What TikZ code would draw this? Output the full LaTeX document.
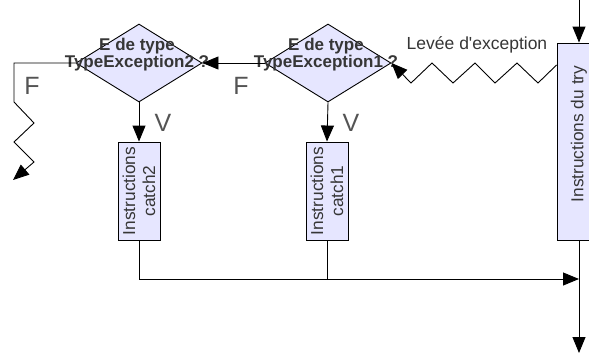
\documentclass[tikz,border=0pt]{standalone}
\usepackage{fontspec}
\setmainfont{Liberation Sans}[Ligatures=TeXOff]
\usetikzlibrary{shapes.geometric,arrows.meta}

\definecolor{boxfill}{HTML}{E6E6FF}
\definecolor{txt}{HTML}{363636}

\begin{document}
\begin{tikzpicture}[x=1pt,y=-1pt,
  line width=0.9pt,
  arr/.style={-{Triangle[length=16pt,width=13pt]}},
  decision/.style={diamond, draw, fill=boxfill, minimum width=126pt,
    minimum height=78pt, inner sep=0pt},
  qtext/.style={text=txt, font=\fontsize{17}{17}\selectfont\bfseries,
    align=center, inner sep=0pt},
  block/.style={draw, fill=boxfill, inner sep=0pt},
  btext/.style={text=txt, font=\fontsize{17.3}{20}\selectfont, align=center,
    rotate=90, inner sep=0pt},
  branch/.style={text=txt!85, font=\fontsize{25}{25}\selectfont, inner sep=0pt}]

  \useasboundingbox (0,0) rectangle (589,354);

  % decisions
  \node[decision] (q2) at (139,63) {};
  \node[decision] (q1) at (328,63) {};
  \node[qtext] (q2t) at (137,55) {E de type\\TypeException2 ?};
  \node[qtext] (q1t) at (326,55) {E de type\\TypeException1 ?};

  % blocks
  \node[block, minimum width=42pt, minimum height=98pt] (c2) at (139,191) {};
  \node[btext] (c2t) at (c2) {Instructions\\catch2};
  \node[block, minimum width=42pt, minimum height=98pt] (c1) at (327,191) {};
  \node[btext] (c1t) at (c1) {Instructions\\catch1};
  \node[block, minimum width=44pt, minimum height=197pt] (try) at (579,141.5) {};
  \node[btext] (tryt) at (579,134) {Instructions du try};

  % free ends
  \coordinate (in) at (579,0);
  \coordinate (out) at (579,353);
  \coordinate (merge) at (579,279);
  \coordinate (fend) at (13,180);

  % entry and exit of the try block
  \draw[arr] (in) -- (try.north);
  \draw[arr] (try.south) -- (out);

  % exception raised
  \draw[arr] (try.west |- 0,65) -- (538,83) -- (517,63) -- (495,83) -- (475,63)
    -- (453,83) -- (432,63) -- (411,83) -- (q1.east);
  \node[text=txt, font=\fontsize{17.5}{17.5}\selectfont, inner sep=0pt] (lev) at (477,45) {Levée d'exception};

  % false branches
  \draw[arr] (q1.west) -- (q2.east);
  \draw[arr] (q2.west) -- (14,63) -- (14,102) -- (34,123) -- (14,142)
    -- (34,162) -- (fend);
  \node[branch] (f2) at (32,86) {F};
  \node[branch] (f1) at (241,86) {F};

  % true branches
  \draw[arr] (q2.south) -- (c2.north);
  \draw[arr] (q1.south) -- (c1.north);
  \node[branch] (v2) at (163,123) {V};
  \node[branch] (v1) at (351,123) {V};

  % joining after the handlers
  \draw[arr] (c2.south) |- (merge);
  \draw (c1.south) -- (c1.south |- merge);
\end{tikzpicture}
\end{document}
